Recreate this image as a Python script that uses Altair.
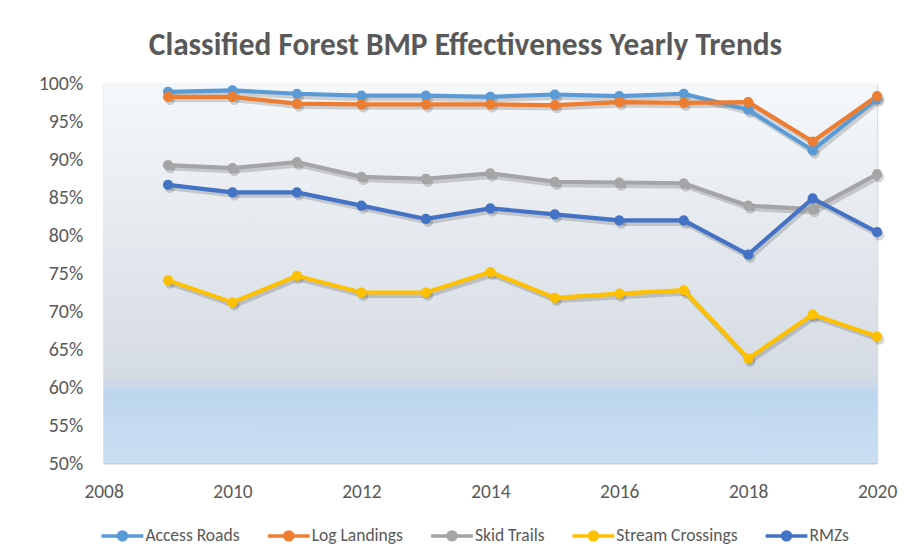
import altair as alt
import pandas as pd

years = [2009, 2010, 2011, 2012, 2013, 2014, 2015, 2016, 2017, 2018, 2019, 2020]
series_names = ["Access Roads", "Log Landings", "Skid Trails", "Stream Crossings", "RMZs"]
series_colors = ["#5B9BD5", "#ED7D31", "#A5A5A5", "#FFC000", "#4472C4"]
access_roads = [98.95, 99.15, 98.7, 98.45, 98.45, 98.3, 98.6, 98.4, 98.7, 96.6, 91.25, 98.1]
log_landings = [98.3, 98.3, 97.4, 97.3, 97.3, 97.3, 97.2, 97.6, 97.5, 97.6, 92.4, 98.4]
skid_trails = [89.3, 88.9, 89.7, 87.75, 87.5, 88.2, 87.1, 87.0, 86.9, 83.95, 83.5, 88.1]
stream_crossings = [74.1, 71.2, 74.7, 72.5, 72.5, 75.2, 71.8, 72.35, 72.8, 63.8, 69.6, 66.7]
rmzs = [86.7, 85.7, 85.7, 83.95, 82.2, 83.6, 82.8, 82.0, 82.0, 77.5, 84.9, 80.45]
x_ticks = [2008, 2010, 2012, 2014, 2016, 2018, 2020]
y_ticks = [50, 55, 60, 65, 70, 75, 80, 85, 90, 95, 100]

all_series = [access_roads, log_landings, skid_trails, stream_crossings, rmzs]
rows = []
for i, (name, vals) in enumerate(zip(series_names, all_series)):
    for y, v in zip(years, vals):
        rows.append({"Year": y, "Value": v, "Series": name, "order": i})
df = pd.DataFrame(rows)

FONT = "Carlito, Lato, sans-serif"
TEXT = "#595959"

x_enc = alt.X("Year:Q", scale=alt.Scale(domain=[2008, 2020], nice=False),
              axis=alt.Axis(values=x_ticks, format="d", title=None, ticks=False,
                            labelFontSize=19.5, labelColor=TEXT, labelFont=FONT,
                            labelPadding=19, gridColor="#d9d9d9", domainColor="#bfbfbf",
                            labelFlush=False))
y_enc = alt.Y("Value:Q", scale=alt.Scale(domain=[50, 100], nice=False, zero=False),
              axis=alt.Axis(values=y_ticks, labelExpr="datum.value + '%'", title=None,
                            ticks=False, domain=False, labelFontSize=20, labelColor=TEXT,
                            labelFont=FONT, labelPadding=21, gridColor="#d9d9d9"))

legend_path = ("M-1,0H1"
               "M0.19,0A0.19,0.19 0 1,1 -0.19,0A0.19,0.19 0 1,1 0.19,0"
               "M0.09,0A0.09,0.09 0 1,1 -0.09,0A0.09,0.09 0 1,1 0.09,0")

color_enc = alt.Color("Series:N", scale=alt.Scale(domain=series_names, range=series_colors),
                      legend=alt.Legend(title=None, orient="none", direction="horizontal",
                                        legendX=-4, legendY=431,
                                        symbolType=legend_path, symbolSize=1764,
                                        symbolStrokeWidth=3.5, labelFontSize=17.6,
                                        labelColor=TEXT, labelFont=FONT, labelOffset=0,
                                        columnPadding=21, symbolOpacity=1))

bg = alt.Chart(alt.Data(values=[{}])).mark_rect(
    fill={"gradient": "linear", "x1": 0, "y1": 0, "x2": 0, "y2": 1,
          "stops": [{"offset": 0, "color": "#f5f8fb"},
                    {"offset": 0.775, "color": "#d5dbe3"},
                    {"offset": 0.815, "color": "#bdd6ee"},
                    {"offset": 1, "color": "#cbdff2"}]}
).encode(x=alt.value(0), x2=alt.value("width"), y=alt.value(0), y2=alt.value("height"))

base = alt.Chart(df)

shadow_line = base.mark_line(color="#000000", opacity=0.16, strokeWidth=5,
                             xOffset=2, yOffset=3).encode(
    x=x_enc, y=y_enc, detail="Series:N", order="Year:Q")
shadow_pt = base.mark_circle(color="#000000", opacity=0.16, size=110,
                             xOffset=2, yOffset=3).encode(x=x_enc, y=y_enc)

lines = base.mark_line(strokeWidth=4.2).encode(
    x=x_enc, y=y_enc, color=color_enc, order="Year:Q")
points = base.mark_point(filled=True, size=105, opacity=1).encode(
    x=x_enc, y=y_enc, color=color_enc)

chart = alt.layer(bg, shadow_line, shadow_pt, lines, points).properties(
    width=777, height=381,
    title=alt.Title("Classified Forest BMP Effectiveness Yearly Trends",
                    font=FONT, fontSize=31.5, fontWeight="bold", color=TEXT,
                    anchor="middle", dx=-25, offset=13),
    autosize=alt.AutoSizeParams(type="none"),
    padding={"left": 96, "top": 75, "right": 24, "bottom": 100},
).configure_view(stroke="#d9d9d9", strokeWidth=1).configure(background="white")

chart.save("out.html", embed_options={"renderer": "svg", "actions": False})
